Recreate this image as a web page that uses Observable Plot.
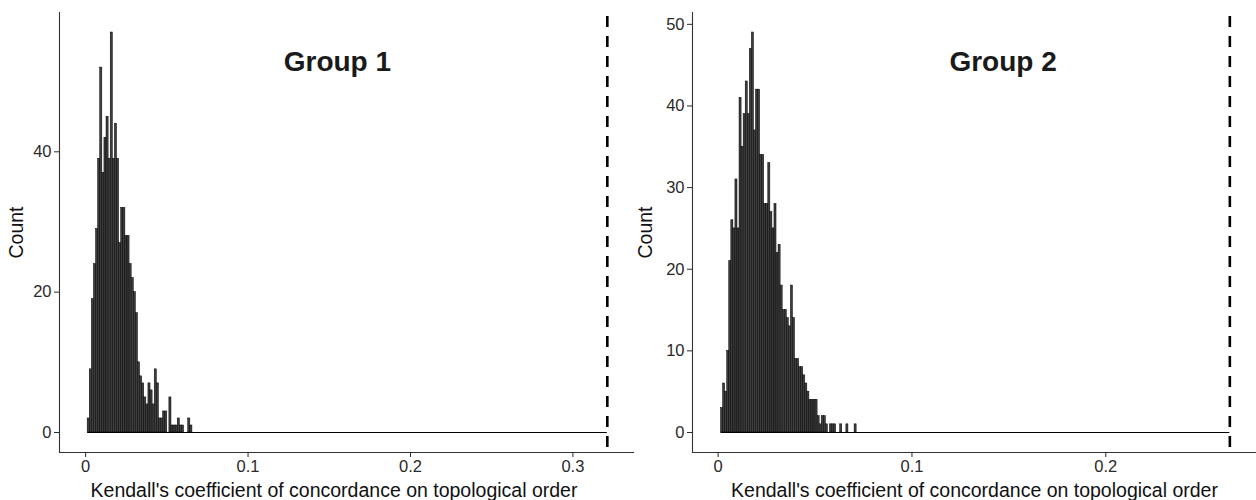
<!DOCTYPE html>
<html>
<head>
<meta charset="utf-8">
<script src="https://cdn.jsdelivr.net/npm/d3@7"></script>
<script src="https://cdn.jsdelivr.net/npm/@observablehq/plot@0.6"></script>
<style>
  html, body { margin: 0; padding: 0; background: #fff; }
  #row { display: flex; flex-direction: row; width: 1256px; height: 500px; }
  #row > svg { flex: none; }
  #row > svg:nth-child(2) { margin-left: -10px; }
  svg { font-family: "Liberation Sans", Arial, sans-serif; }
</style>
</head>
<body>
<div id="row"></div>
<script>
// ---- Data ----
const xLabel = "Kendall's coefficient of concordance on topological order";
const yLabel = "Count";

// Group 1: permutation histogram counts
const group1Title = "Group 1";
const group1BinStart = 0.00125;
const group1BinWidth = 0.00129;
const group1Counts = [2, 9, 19, 24, 29, 39, 52, 37, 42, 45,
  39, 57, 39, 44, 39, 27, 32, 32, 28, 28,
  24, 22, 20, 17, 10, 8, 7, 5, 4, 7,
  6, 4, 9, 7, 2, 2, 3, 3, 0, 5,
  1, 1, 1, 2, 1, 1, 0, 0, 2, 1];
const group1Observed = 0.3212;
const group1XTicks = [0, 0.1, 0.2, 0.3];
const group1YTicks = [0, 20, 40];
const group1TitlePos = {x: 0.155, y: 52.8};

// Group 2
const group2Title = "Group 2";
const group2BinStart = 0.0015;
const group2BinWidth = 0.00106;
const group2Counts = [3, 6, 5, 10, 21, 26, 25, 31, 25, 41,
  35, 39, 43, 39, 47, 49, 37, 42, 42, 34,
  34, 28, 28, 33, 27, 25, 28, 22, 23, 18,
  15, 15, 14, 13, 18, 14, 9, 9, 8, 8,
  7, 6, 5, 4, 4, 4, 4, 2, 1, 2,
  2, 1, 0, 1, 1, 1, 0, 0, 1, 0,
  0, 1, 0, 0, 0, 1];
const group2Observed = 0.264;
const group2XTicks = [0, 0.1, 0.2];
const group2YTicks = [0, 10, 20, 30, 40, 50];
const group2TitlePos = {x: 0.147, y: 45.4};

function expand(lo, hi) { const p = (hi - lo) * 0.05; return [lo - p, hi + p]; }

function panel({title, titlePos, binStart, binWidth, counts, observed, xTicks, yTicks, width, marginLeft, marginRight, yLabelOffset, bg}) {
  const bins = counts.map((c, i) => ({x1: binStart + i * binWidth, x2: binStart + (i + 1) * binWidth, count: c}));
  const xDom = expand(0, observed + binWidth * 0.5);
  const yDom = expand(0, d3.max(counts));
  const fmt = d => d === 0 ? "0" : String(d);
  return Plot.plot({
    width, height: 500,
    marginLeft, marginRight, marginTop: 12, marginBottom: 48,
    style: {fontFamily: '"Liberation Sans", Arial, sans-serif', background: bg},
    x: {domain: xDom},
    y: {domain: yDom},
    marks: [
      Plot.rectY(bins, {x1: "x1", x2: "x2", y: "count", fill: "#3d3d3d", stroke: "#000", strokeWidth: 0.5}),
      Plot.ruleY([0], {x1: binStart, x2: observed, stroke: "#000", strokeWidth: 1.2}),
      Plot.ruleX([observed], {stroke: "#000", strokeWidth: 2.6, strokeDasharray: "11,9", strokeDashoffset: -4}),
      Plot.ruleX([xDom[0]], {stroke: "#333", strokeWidth: 1.1}),
      Plot.ruleY([yDom[0]], {stroke: "#333", strokeWidth: 1.1}),
      Plot.axisX({ticks: xTicks, tickFormat: fmt, tickSize: 5, tickPadding: 3, fontSize: 16.5, color: "#2a2a2a",
        label: xLabel, labelAnchor: "center", labelOffset: 44, labelArrow: "none"}),
      Plot.axisY({ticks: yTicks, tickFormat: fmt, tickSize: 5, tickPadding: 3, fontSize: 16.5, color: "#2a2a2a",
        label: yLabel, labelAnchor: "center", labelOffset: yLabelOffset, labelArrow: "none"}),
      Plot.text([titlePos], {x: "x", y: "y", text: () => title, fontSize: 28, fontWeight: "bold", fill: "#1a1a1a"})
    ]
  });
}

const row = document.getElementById("row");
const svg1 = panel({title: group1Title, titlePos: group1TitlePos, binStart: group1BinStart, binWidth: group1BinWidth,
  counts: group1Counts, observed: group1Observed, xTicks: group1XTicks, yTicks: group1YTicks,
  width: 640, marginLeft: 59, marginRight: 6, yLabelOffset: 50, bg: "#fff"});
const svg2 = panel({title: group2Title, titlePos: group2TitlePos, binStart: group2BinStart, binWidth: group2BinWidth,
  counts: group2Counts, observed: group2Observed, xTicks: group2XTicks, yTicks: group2YTicks,
  width: 626, marginLeft: 62, marginRight: 0, yLabelOffset: 54, bg: "transparent"});
row.appendChild(svg1);
row.appendChild(svg2);

// axis title font sizes
document.querySelectorAll("svg g[aria-label='x-axis label'] text, svg g[aria-label='y-axis label'] text").forEach(t => {
  t.setAttribute("font-size", "19.5"); t.style.fill = "#111";
});
// ggplot centred the first panel's x title slightly left of the panel centre
svg1.querySelectorAll("g[aria-label='x-axis label'] text").forEach(t => t.setAttribute("dx", "-13"));
</script>
</body>
</html>
